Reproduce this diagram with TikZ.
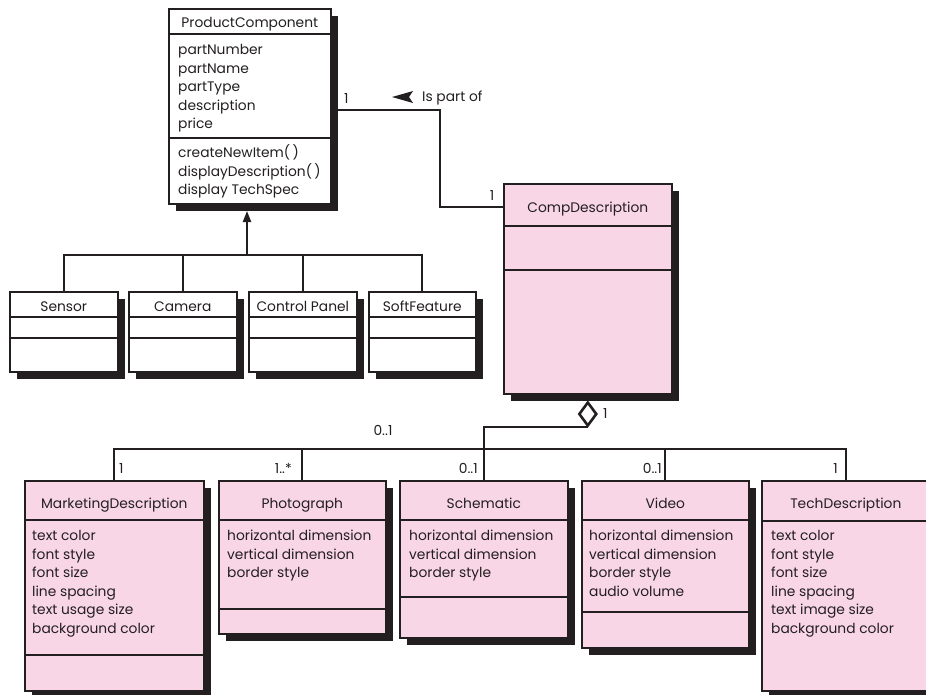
\documentclass[tikz,border=0pt]{standalone}
\usepackage{fontspec}
\setmainfont{Poppins}
\usetikzlibrary{shadows,shapes.geometric,calc,arrows.meta}
\definecolor{ink}{HTML}{231F20}
\definecolor{pinkfill}{RGB}{249,214,230}
\begin{document}
\begin{tikzpicture}[x=1pt,y=-1pt,
  txt/.style={font=\fontsize{13.8}{16}\selectfont, text=ink, inner sep=0pt},
  box/.style={draw=ink, line width=1.6pt, anchor=north west, inner sep=0pt,
    drop shadow={shadow xshift=7pt, shadow yshift=-7pt, fill=ink, opacity=1}},
  pbox/.style={box, fill=pinkfill},
  wbox/.style={box, fill=white},
  conn/.style={draw=ink, line width=2pt},
  div/.style={draw=ink, line width=1.6pt}]
\useasboundingbox (0,0) rectangle (926,694);
\clip (0,0) rectangle (926,694);

\newcommand\classbox[6]{\node[#2, minimum width={#5-#3}, minimum height={#6-#4}] (#1) at (#3,#4) {};}
\newcommand\divline[2]{\draw[div] (#1.north west |- 0,#2) -- (#1.north east |- 0,#2);}

% ---------- ProductComponent ----------
\classbox{pc}{wbox}{168}{8}{330}{203}
\divline{pc}{34}\divline{pc}{138}
\node[txt, anchor=base] (pct) at (pc.north |- 0,27) {ProductComponent};
\foreach \t [count=\i from 0] in {partNumber,partName,partType,description,price}
  \node[txt, anchor=base west] (pca\i) at (178,54.5+18.5*\i) {\t};
\foreach \t [count=\i from 0] in {createNewItem(\,),displayDescription(\,),display TechSpec}
  \node[txt, anchor=base west] (pcm\i) at (178,157.5+18.5*\i) {\t};

% ---------- subclasses ----------
\classbox{sen}{wbox}{9}{291}{117}{371}
\classbox{cam}{wbox}{128}{291}{236}{371}
\classbox{cpl}{wbox}{248}{291}{356}{371}
\classbox{sft}{wbox}{368}{291}{475}{371}
\foreach \b/\t in {sen/Sensor,cam/Camera,cpl/Control Panel,sft/SoftFeature}{
  \divline{\b}{317}\divline{\b}{338}
  \node[txt, anchor=base] (\b t) at (\b.north |- 0,311) {\t};
}

% ---------- CompDescription ----------
\classbox{cd}{pbox}{503}{183}{671}{393}
\divline{cd}{226}\divline{cd}{270}
\node[txt, anchor=base] (cdt) at (cd.north |- 0,212) {CompDescription};

% ---------- bottom classes ----------
\classbox{mkt}{pbox}{24}{480}{203}{690}
\classbox{pho}{pbox}{218}{480}{385}{633}
\classbox{sch}{pbox}{399}{480}{567}{637}
\classbox{vid}{pbox}{581}{480}{748}{647}
\classbox{tec}{pbox}{761}{480}{929}{690}
\divline{mkt}{520}\divline{mkt}{655}
\divline{pho}{520}\divline{pho}{609}
\divline{sch}{520}\divline{sch}{597}
\divline{vid}{520}\divline{vid}{612}
\divline{tec}{521}
\foreach \b/\t in {mkt/MarketingDescription,pho/Photograph,sch/Schematic,vid/Video,tec/TechDescription}
  \node[txt, anchor=base] (\b t) at (\b.north |- 0,508) {\t};
\foreach \t [count=\i from 0] in {text color,font style,font size,line spacing,text usage size,background color}
  \node[txt, anchor=base west] (mkta\i) at ($(mkt.north west |- 0,540.5)+(8,18.6*\i)$) {\t};
\foreach \t [count=\i from 0] in {horizontal dimension,vertical dimension,border style}
  \node[txt, anchor=base west] (phoa\i) at ($(pho.north west |- 0,540.5)+(9,18.6*\i)$) {\t};
\foreach \t [count=\i from 0] in {horizontal dimension,vertical dimension,border style}
  \node[txt, anchor=base west] (scha\i) at ($(sch.north west |- 0,540.5)+(10,18.6*\i)$) {\t};
\foreach \t [count=\i from 0] in {horizontal dimension,vertical dimension,border style,audio volume}
  \node[txt, anchor=base west] (vida\i) at ($(vid.north west |- 0,540.5)+(8,18.6*\i)$) {\t};
\foreach \t [count=\i from 0] in {text color,font style,font size,line spacing,text image size,background color}
  \node[txt, anchor=base west] (teca\i) at ($(tec.north west |- 0,540.5)+(10,18.6*\i)$) {\t};

% ---------- association "Is part of" ----------
\coordinate (bend) at (440,110);
\draw[conn] (pc.north east |- bend) -- (bend) |- ($(cd.north west)+(0,24)$);
\node[txt, anchor=base west] (m1) at (344,103) {1};
\node[txt, anchor=base] (m2) at (492,200) {1};
\fill[ink] (392,97) -- (413,91) -- (409,97) -- (413,103) -- cycle;
\node[txt, anchor=base west] (ipo) at (422,101) {Is part of};

% ---------- generalization ----------
\coordinate (hub) at (247,255);
\draw[conn] (sen.north) |- (sft.north |- hub) -- (sft.north);
\draw[conn] (cam.north) -- (cam.north |- hub);
\draw[conn] (cpl.north) -- (cpl.north |- hub);
\draw[conn, -{Triangle[length=11pt,width=8pt]}] (hub) -- (247,211);

% ---------- aggregation ----------
\node[diamond, draw=ink, line width=2.6pt, fill=white, minimum width=18pt, minimum height=24pt, inner sep=0pt] (agg) at (cd.south |- 0,414) {};
\draw[conn] (agg.south) -- (sch.north |- agg.south) -- (sch.north);
\coordinate (bus) at (0,449);
\draw[conn] (mkt.north) |- (tec.north |- bus) -- (tec.north);
\draw[conn] (pho.north) -- (pho.north |- bus);
\draw[conn] (vid.north) -- (vid.north |- bus);
\node[txt, anchor=base west] (ma) at (603,418) {1};
\node[txt, anchor=base] (mb) at (383,435) {0..1};
\node[txt, anchor=base west] (mc) at (119,473) {1};
\node[txt, anchor=base east] (md) at (292,473) {1..*};
\node[txt, anchor=base east] (me) at (478,473) {0..1};
\node[txt, anchor=base east] (mf) at (662,473) {0..1};
\node[txt, anchor=base east] (mg) at (838,473) {1};
\end{tikzpicture}
\end{document}
